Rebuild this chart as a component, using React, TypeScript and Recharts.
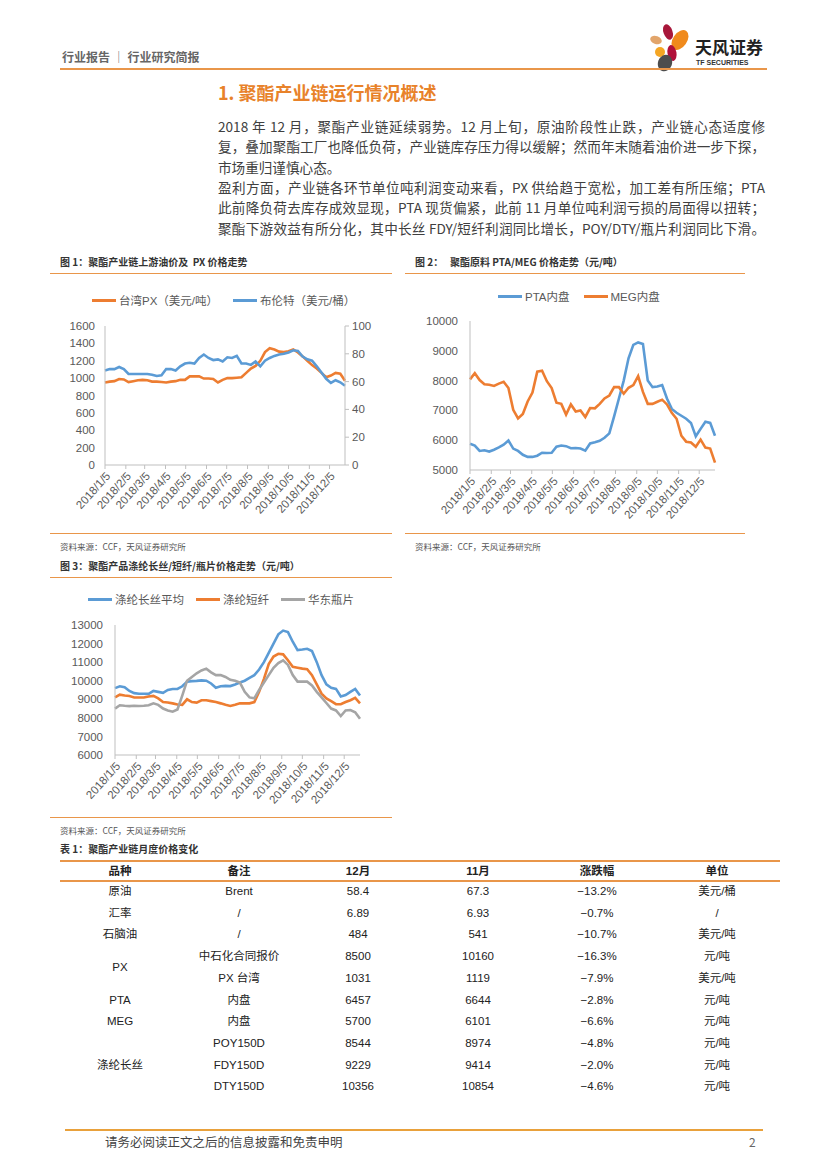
import React from 'react';
import { LineChart, Line, XAxis, YAxis } from 'recharts';

// weekly observation dates (Fridays)
const weeks = [
  '2018/1/5', '2018/1/12', '2018/1/19', '2018/1/26', '2018/2/2', '2018/2/9', '2018/2/16', '2018/2/23',
  '2018/3/2', '2018/3/9', '2018/3/16', '2018/3/23', '2018/3/30', '2018/4/6', '2018/4/13', '2018/4/20',
  '2018/4/27', '2018/5/4', '2018/5/11', '2018/5/18', '2018/5/25', '2018/6/1', '2018/6/8', '2018/6/15',
  '2018/6/22', '2018/6/29', '2018/7/6', '2018/7/13', '2018/7/20', '2018/7/27', '2018/8/3', '2018/8/10',
  '2018/8/17', '2018/8/24', '2018/8/31', '2018/9/7', '2018/9/14', '2018/9/21', '2018/9/28', '2018/10/5',
  '2018/10/12', '2018/10/19', '2018/10/26', '2018/11/2', '2018/11/9', '2018/11/16', '2018/11/23', '2018/11/30',
  '2018/12/7', '2018/12/14', '2018/12/21', '2018/12/28',
];

const monthTicks = [
  '2018/1/5', '2018/2/5', '2018/3/5', '2018/4/5', '2018/5/5', '2018/6/5',
  '2018/7/5', '2018/8/5', '2018/9/5', '2018/10/5', '2018/11/5', '2018/12/5',
];

// fig 1
const pxTaiwan = [
  950, 960, 965, 990, 985, 955, 965, 975, 980, 975, 960, 960, 955, 950, 960, 965, 980, 980, 1020, 1020,
  1020, 995, 995, 990, 950, 980, 1000, 1000, 1005, 1010, 1060, 1110, 1140, 1200, 1300, 1345, 1330, 1305,
  1300, 1310, 1330, 1295, 1250, 1200, 1150, 1110, 1060, 1010, 1030, 1060, 1050, 970,
];
const brent = [
  68, 69, 69, 70.5, 69, 65.5, 65.5, 65.5, 65.5, 65.5, 65, 64, 64.5, 69, 69, 68, 71, 73, 73.5, 73,
  77, 79.5, 77, 75.5, 76, 74.5, 77.5, 77, 78.5, 73, 73, 72, 74.5, 71, 75, 77, 78.5, 79.5,
  80, 81, 82.5, 82, 78, 76, 75, 71, 66.5, 62, 59, 61, 59.5, 57,
];

// fig 2
const ptaDomestic = [
  5880, 5820, 5640, 5660, 5620, 5680, 5760, 5850, 5990, 5720, 5640, 5510, 5440, 5440, 5480, 5580, 5570,
  5580, 5780, 5820, 5800, 5730, 5740, 5720, 5650, 5890, 5930, 5980, 6080, 6230, 6800, 7400, 8000, 8750,
  9200, 9280, 9230, 8000, 7780, 7800, 7850, 7400, 7050, 6920, 6820, 6720, 6580, 6130, 6380, 6620, 6580, 6150,
];
const megDomestic = [
  8040, 8250, 8020, 7880, 7860, 7820, 7900, 7960, 7750, 7020, 6730, 6880, 7300, 7600, 8300, 8330, 7980,
  7750, 7260, 7220, 6860, 7200, 6960, 7000, 6780, 7080, 7070, 7220, 7400, 7500, 7780, 7780, 7560, 7760,
  7850, 8150, 7620, 7220, 7220, 7290, 7360, 7200, 6920, 6720, 6150, 5950, 5920, 5780, 6020, 5750, 5720, 5250,
];

// fig 3
const filamentAvg = [
  9600, 9700, 9650, 9450, 9330, 9300, 9300, 9290, 9450, 9400, 9350, 9500, 9550, 9560, 9700, 9950, 9980,
  9990, 10020, 10000, 9850, 9620, 9700, 9720, 9710, 9800, 9900, 10000, 10150, 10300, 10600, 11000, 11500,
  12000, 12500, 12700, 12620, 12100, 11650, 11680, 11720, 11600, 11000, 10300, 9800, 9620, 9560, 9150,
  9230, 9400, 9560, 9200,
];
const staple = [
  9100, 9250, 9200, 9180, 9100, 9100, 9100, 9150, 9180, 9050, 8850, 8830, 8780, 8720, 8700, 9000, 8850,
  8820, 8950, 8950, 8900, 8850, 8780, 8700, 8640, 8700, 8780, 8780, 8780, 8850, 9400, 10100, 10900, 11300,
  11450, 11420, 11100, 10750, 10700, 10650, 10620, 10300, 9800, 9300, 9050, 8900, 8740, 8730, 8850, 8950,
  9080, 8780,
];
const bottleChip = [
  8500, 8680, 8650, 8630, 8650, 8640, 8650, 8680, 8780, 8700, 8500, 8400, 8330, 8450, 9200, 10000, 10200,
  10400, 10550, 10650, 10450, 10300, 10300, 10200, 10050, 10000, 9900, 9400, 9100, 9050, 9500, 9900, 10300,
  10700, 10950, 11100, 10850, 10300, 9950, 9950, 9950, 9750, 9400, 9100, 8800, 8500, 8400, 8100, 8400,
  8420, 8300, 7950,
];

const tableHead = ['品种', '备注', '12月', '11月', '涨跌幅', '单位'];
const tableNotes = ['Brent', '/', '/', '中石化合同报价', 'PX 台湾', '内盘', '内盘', 'POY150D', 'FDY150D', 'DTY150D'];
const tableDec = ['58.4', '6.89', '484', '8500', '1031', '6457', '5700', '8544', '9229', '10356'];
const tableNov = ['67.3', '6.93', '541', '10160', '1119', '6644', '6101', '8974', '9414', '10854'];
const tableChg = ['−13.2%', '−0.7%', '−10.7%', '−16.3%', '−7.9%', '−2.8%', '−6.6%', '−4.8%', '−2.0%', '−4.6%'];
const tableUnit = ['美元/桶', '/', '美元/吨', '元/吨', '美元/吨', '元/吨', '元/吨', '元/吨', '元/吨', '元/吨'];
// product label, first row, number of rows it spans
const tableGroups: [string, number, number][] = [
  ['原油', 0, 1], ['汇率', 1, 1], ['石脑油', 2, 1], ['PX', 3, 2], ['PTA', 5, 1], ['MEG', 6, 1], ['涤纶长丝', 7, 3],
];

const paragraph = [
  '2018 年 12 月，聚酯产业链延续弱势。12 月上旬，原油阶段性止跌，产业链心态适度修',
  '复，叠加聚酯工厂也降低负荷，产业链库存压力得以缓解；然而年末随着油价进一步下探，',
  '市场重归谨慎心态。',
  '盈利方面，产业链各环节单位吨利润变动来看，PX 供给趋于宽松，加工差有所压缩；PTA',
  '此前降负荷去库存成效显现，PTA 现货偏紧，此前 11 月单位吨利润亏损的局面得以扭转；',
  '聚酯下游效益有所分化，其中长丝 FDY/短纤利润同比增长，POY/DTY/瓶片利润同比下滑。',
];

const BLUE = '#5B9BD5';
const ORANGE = '#ED7D31';
const GRAY = '#A5A5A5';
const RULE = '#E9964A';
const AXIS = '#BFBFBF';
const TICK = '#595959';
const CHART_FONT = '"Liberation Sans", "Noto Sans CJK SC", sans-serif';

const dayOf = (d: string) => {
  const [y, m, dd] = d.split('/').map(Number);
  return Math.round((Date.UTC(y, m - 1, dd) - Date.UTC(y, 0, 1)) / 86400000);
};
const tickDays = monthTicks.map(dayOf);
const tickLabel = (v: number) => monthTicks[tickDays.indexOf(v)] ?? '';
const xDomain = [dayOf(weeks[0]), dayOf(weeks[weeks.length - 1])];

const fig1 = weeks.map((w, i) => ({ day: dayOf(w), px: pxTaiwan[i], brent: brent[i] }));
const fig2 = weeks.map((w, i) => ({ day: dayOf(w), pta: ptaDomestic[i], meg: megDomestic[i] }));
const fig3 = weeks.map((w, i) => ({ day: dayOf(w), fil: filamentAvg[i], psf: staple[i], chip: bottleChip[i] }));

const tickStyle = { fill: TICK, fontSize: 11.5, fontFamily: CHART_FONT };

const dateAxis = (height: number) => (
  <XAxis
    dataKey="day"
    type="number"
    domain={xDomain}
    ticks={tickDays}
    interval={0}
    tickFormatter={tickLabel}
    angle={-48}
    textAnchor="end"
    height={height}
    tickSize={4}
    tickMargin={2}
    stroke={AXIS}
    tick={{ ...tickStyle, fontSize: 11.5 }}
  />
);

const Legend = ({ items, left, top, gap }: { items: [string, string][]; left: number; top: number; gap: number }) => (
  <div style={{ position: 'absolute', left, top, display: 'flex', gap, alignItems: 'center', fontFamily: CHART_FONT, fontSize: 11.5, color: TICK }}>
    {items.map(([name, color]) => (
      <div key={name} style={{ display: 'flex', alignItems: 'center', gap: 3 }}>
        <div style={{ width: 24, height: 3, background: color }} />
        <span>{name}</span>
      </div>
    ))}
  </div>
);

const abs = (left: number, top: number, extra: React.CSSProperties = {}): React.CSSProperties => ({ position: 'absolute', left, top, ...extra });

const Box = ({ x, y, w, h, title, source }: { x: number; y: number; w: number; h: number; title: string; source: boolean }) => (
  <>
    <div style={abs(x + 10, y - 19, { fontSize: 10, fontWeight: 700, color: '#333', whiteSpace: 'pre' })}>{title}</div>
    <div style={abs(x, y, { width: w, height: 1, background: RULE })} />
    <div style={abs(x, y + h, { width: w, height: 1, background: RULE })} />
    {source && <div style={abs(x + 10, y + h + 7, { fontSize: 8.5, color: '#555' })}>资料来源：CCF，天风证券研究所</div>}
  </>
);

export default function App() {
  const rowY = (i: number) => 891 + i * 21.7;
  const colX = [120, 239, 358, 478, 597, 717];
  const cell = (cx: number, cy: number, text: string, bold = false) => (
    <div key={`${cx}-${cy}-${text}`} style={abs(cx - 60, cy - 8, { width: 120, height: 16, lineHeight: '16px', textAlign: 'center', fontSize: 11.5, fontWeight: bold ? 700 : 400, color: '#222', fontFamily: '"Liberation Sans", "Noto Sans CJK SC", sans-serif' })}>
      {text}
    </div>
  );

  return (
    <div style={{ position: 'absolute', left: 0, top: 0, width: 827, height: 1169, background: '#fff', overflow: 'hidden', fontFamily: '"Noto Sans CJK SC", sans-serif' }}>
      {/* header */}
      <div style={abs(62, 48, { fontSize: 12, fontWeight: 700, color: '#666', whiteSpace: 'pre' })}>行业报告 │ 行业研究简报</div>
      <svg style={abs(645, 20)} width={50} height={52}>
        <ellipse cx={23} cy={12} rx={4.5} ry={8} fill="#A8173A" transform="rotate(-20 23 12)" />
        <ellipse cx={35} cy={20} rx={7} ry={11} fill="#F08A1C" transform="rotate(35 35 20)" />
        <ellipse cx={11} cy={20} rx={6} ry={4} fill="#E2A56B" transform="rotate(20 11 20)" />
        <circle cx={15} cy={32} r={5} fill="#F5A623" />
        <ellipse cx={27} cy={33} rx={4.5} ry={8} fill="#B0103A" transform="rotate(-10 27 33)" />
        <ellipse cx={20} cy={43} rx={7} ry={8.5} fill="#4D4D4D" transform="rotate(20 20 43)" />
      </svg>
      <div style={abs(695, 37, { fontSize: 17, fontWeight: 700, color: '#222', lineHeight: '20px' })}>天风证券</div>
      <div style={abs(696, 59, { fontSize: 7, fontWeight: 700, color: '#333', fontFamily: '"Liberation Sans", sans-serif', lineHeight: '8px' })}>TF SECURITIES</div>
      <div style={abs(60, 68, { width: 707, height: 2, background: RULE })} />

      {/* section */}
      <div style={abs(218, 80, { fontSize: 18, fontWeight: 700, color: '#E8822A', lineHeight: '24px' })}>1. 聚酯产业链运行情况概述</div>
      {paragraph.map((line, i) => (
        <div
          key={i}
          style={abs(218, 116 + i * 20.3, {
            width: 547,
            fontSize: 13.6,
            lineHeight: '20px',
            color: '#404040',
            textAlign: 'justify',
            textAlignLast: i === 2 ? 'left' : 'justify',
            whiteSpace: 'nowrap',
          })}
        >
          {line}
        </div>
      ))}

      {/* figure 1 */}
      <Box x={50} y={273} w={342} h={260} title="图 1：聚酯产业链上游油价及  PX 价格走势" source />
      <Legend items={[['台湾PX（美元/吨）', ORANGE], ['布伦特（美元/桶）', BLUE]]} left={92} top={292} gap={15} />
      <div style={abs(50, 280)}>
        <LineChart width={342} height={250} data={fig1} margin={{ top: 46, right: 0, bottom: 0, left: 0 }}>
          {dateAxis(65)}
          <YAxis yAxisId="l" width={55} domain={[0, 1600]} ticks={[0, 200, 400, 600, 800, 1000, 1200, 1400, 1600]} tickLine={false} tickMargin={4} tickSize={6} stroke={AXIS} tick={tickStyle} />
          <YAxis yAxisId="r" orientation="right" width={47} domain={[0, 100]} ticks={[0, 20, 40, 60, 80, 100]} tickSize={4} tickMargin={3} stroke={AXIS} tick={tickStyle} />
          <Line yAxisId="l" dataKey="px" stroke={ORANGE} strokeWidth={2.6} dot={false} isAnimationActive={false} />
          <Line yAxisId="r" dataKey="brent" stroke={BLUE} strokeWidth={2.6} dot={false} isAnimationActive={false} />
        </LineChart>
      </div>

      {/* figure 2 */}
      <Box x={405} y={273} w={340} h={260} title="图 2：   聚酯原料 PTA/MEG 价格走势（元/吨）" source />
      <Legend items={[['PTA内盘', BLUE], ['MEG内盘', ORANGE]]} left={498} top={288} gap={14} />
      <div style={abs(405, 280)}>
        <LineChart width={340} height={250} data={fig2} margin={{ top: 41, right: 30, bottom: 0, left: 0 }}>
          {dateAxis(60)}
          <YAxis width={65} domain={[5000, 10000]} ticks={[5000, 6000, 7000, 8000, 9000, 10000]} tickLine={false} tickSize={6} tickMargin={6} stroke={AXIS} tick={tickStyle} />
          <Line dataKey="pta" stroke={BLUE} strokeWidth={2.6} dot={false} isAnimationActive={false} />
          <Line dataKey="meg" stroke={ORANGE} strokeWidth={2.6} dot={false} isAnimationActive={false} />
        </LineChart>
      </div>

      {/* figure 3 */}
      <Box x={50} y={577} w={342} h={240} title="图 3：聚酯产品涤纶长丝/短纤/瓶片价格走势（元/吨）" source />
      <Legend items={[['涤纶长丝平均', BLUE], ['涤纶短纤', ORANGE], ['华东瓶片', GRAY]]} left={88} top={591} gap={12} />
      <div style={abs(50, 585)}>
        <LineChart width={342} height={230} data={fig3} margin={{ top: 40, right: 32, bottom: 0, left: 0 }}>
          {dateAxis(60)}
          <YAxis width={65} domain={[6000, 13000]} ticks={[6000, 7000, 8000, 9000, 10000, 11000, 12000, 13000]} tickLine={false} tickSize={6} tickMargin={6} stroke={AXIS} tick={tickStyle} />
          <Line dataKey="fil" stroke={BLUE} strokeWidth={2.6} dot={false} isAnimationActive={false} />
          <Line dataKey="psf" stroke={ORANGE} strokeWidth={2.6} dot={false} isAnimationActive={false} />
          <Line dataKey="chip" stroke={GRAY} strokeWidth={2.6} dot={false} isAnimationActive={false} />
        </LineChart>
      </div>

      {/* table 1 */}
      <div style={abs(60, 841, { fontSize: 10, fontWeight: 700, color: '#333' })}>表 1：聚酯产业链月度价格变化</div>
      <div style={abs(60, 860, { width: 720, height: 1.5, background: RULE })} />
      <div style={abs(60, 880, { width: 720, height: 1.5, background: RULE })} />
      {tableHead.map((h, i) => cell(colX[i], 871, h, true))}
      {tableGroups.map(([name, start, span]) => cell(colX[0], (rowY(start) + rowY(start + span - 1)) / 2, name))}
      {tableNotes.map((t, i) => cell(colX[1], rowY(i), t))}
      {tableDec.map((t, i) => cell(colX[2], rowY(i), t))}
      {tableNov.map((t, i) => cell(colX[3], rowY(i), t))}
      {tableChg.map((t, i) => cell(colX[4], rowY(i), t))}
      {tableUnit.map((t, i) => cell(colX[5], rowY(i), t))}

      {/* footer */}
      <div style={abs(65, 1129, { width: 698, height: 2, background: '#E9A13B' })} />
      <div style={abs(105, 1133, { fontSize: 12.5, color: '#444', lineHeight: '18px' })}>请务必阅读正文之后的信息披露和免责申明</div>
      <div style={abs(749, 1133, { fontSize: 12, color: '#666', lineHeight: '18px' })}>2</div>
    </div>
  );
}
